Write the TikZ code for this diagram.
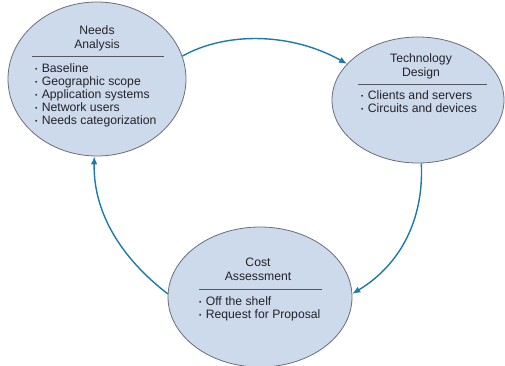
\documentclass[tikz,border=0pt]{standalone}
\usepackage{fontspec}
\setmainfont{Liberation Sans}
\usetikzlibrary{shapes.geometric,arrows.meta}
\definecolor{ellfill}{RGB}{205,218,236}
\definecolor{elldraw}{RGB}{105,110,120}
\definecolor{arrowc}{RGB}{28,122,172}
\definecolor{textc}{RGB}{35,35,40}
\definecolor{rulec}{RGB}{85,88,95}
\newcommand{\bul}{\raisebox{0.15ex}{\scalebox{0.55}{\textbullet}}\hspace{0.35em}}
\tikzset{
  phase/.style={ellipse, draw=elldraw, fill=ellfill, line width=0.8pt, inner sep=0pt},
  ttl/.style={anchor=base, inner sep=0pt, text=textc, font=\fontsize{12.2}{13}\selectfont},
  itm/.style={anchor=base west, inner sep=0pt, text=textc, font=\fontsize{12.2}{13}\selectfont},
  sep/.style={draw=rulec, line width=0.6pt},
  flow/.style={draw=arrowc, line width=1.4pt, -{Latex[length=8pt,width=6.5pt]}}
}
\begin{document}
\begin{tikzpicture}[x=1pt,y=-1pt]
\useasboundingbox (0,0) rectangle (505,365);
% ellipses
\node[phase, minimum width=178pt, minimum height=154pt] (na) at (97,79) {};
\node[phase, minimum width=172pt, minimum height=126pt] (td) at (418,100) {};
\node[phase, minimum width=184pt, minimum height=140pt] (ca) at (260,297) {};
% Needs Analysis
\node[ttl] (na1) at (97,34) {Needs};
\node[ttl] (na2) at (97,48) {Analysis};
\coordinate (nal) at (32,56); \coordinate (nar) at (164,56);
\draw[sep] (nal) -- (nar);
\node[itm] (nb1) at (35,72) {\bul Baseline};
\node[itm] (nb2) at (35,85) {\bul Geographic scope};
\node[itm] (nb3) at (35,98) {\bul Application systems};
\node[itm] (nb4) at (35,111) {\bul Network users};
\node[itm] (nb5) at (35,124) {\bul Needs categorization};
% Technology Design
\node[ttl] (td1) at (421,62) {Technology};
\node[ttl] (td2) at (421,76) {Design};
\coordinate (tdl) at (358,84); \coordinate (tdr) at (487,84);
\draw[sep] (tdl) -- (tdr);
\node[itm] (tb1) at (361,99) {\bul Clients and servers};
\node[itm] (tb2) at (361,112) {\bul Circuits and devices};
% Cost Assessment
\node[ttl] (ca1) at (258,266) {Cost};
\node[ttl] (ca2) at (258,280) {Assessment};
\coordinate (cal) at (199,289); \coordinate (car) at (322,289);
\draw[sep] (cal) -- (car);
\node[itm] (cb1) at (199,305) {\bul Off the shelf};
\node[itm] (cb2) at (199,318) {\bul Request for Proposal};
% connectors
\draw[flow] (na.15) .. controls (225,32) and (290,32) .. (td.153);
\draw[flow] (td.-87) .. controls (424,220) and (400,265) .. (ca.2);
\draw[flow] (ca.178) .. controls (130,265) and (93,220) .. (na.-92);
\end{tikzpicture}
\end{document}
